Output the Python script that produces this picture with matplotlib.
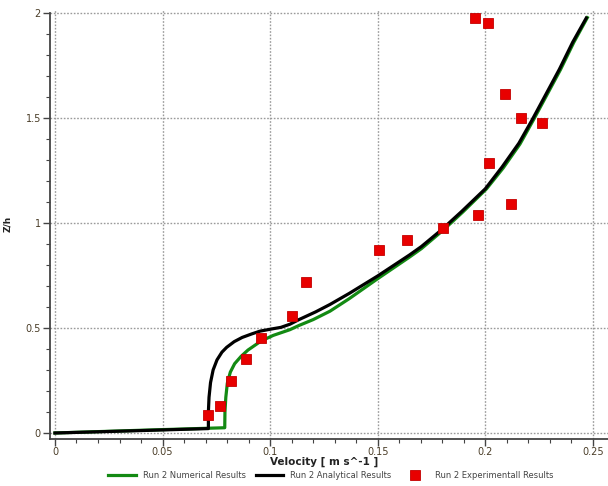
import matplotlib
matplotlib.use("Agg")
import matplotlib.pyplot as plt
from matplotlib.ticker import MultipleLocator

# Run 2 velocity profile: numerical, analytical and experimental results
num_v = [0.0, 0.04, 0.0789, 0.0790, 0.0794, 0.0801, 0.0815, 0.0835, 0.0865,
         0.0897, 0.0958, 0.1015, 0.1092, 0.1134, 0.1200, 0.1278, 0.1368,
         0.1500, 0.1648, 0.1703, 0.1803, 0.1895, 0.2005, 0.2083, 0.2161,
         0.2223, 0.2286, 0.2349, 0.2411, 0.2474]
num_z = [0.0, 0.013, 0.025, 0.10, 0.17, 0.237, 0.29, 0.33, 0.365,
         0.395, 0.438, 0.465, 0.492, 0.512, 0.540, 0.580, 0.640,
         0.735, 0.838, 0.878, 0.965, 1.052, 1.162, 1.262, 1.376,
         1.490, 1.610, 1.730, 1.860, 1.978]

ana_v = [0.0, 0.035, 0.0713, 0.0713, 0.0716, 0.0723, 0.0735, 0.0753, 0.0776,
         0.0798, 0.0833, 0.0870, 0.0915, 0.0953, 0.1005, 0.1050, 0.1092,
         0.1134, 0.1212, 0.1278, 0.1368, 0.1500, 0.1648, 0.1703, 0.1797,
         0.1890, 0.2000, 0.2078, 0.2156, 0.2218, 0.2281, 0.2344, 0.2406,
         0.2469]
ana_z = [0.0, 0.010, 0.021, 0.10, 0.17, 0.24, 0.30, 0.348, 0.385,
         0.408, 0.435, 0.455, 0.472, 0.485, 0.495, 0.503, 0.518,
         0.540, 0.577, 0.612, 0.665, 0.748, 0.848, 0.888, 0.968,
         1.055, 1.163, 1.267, 1.380, 1.492, 1.612, 1.732, 1.861,
         1.976]

exp_v = [0.0713, 0.0768, 0.0816, 0.0886, 0.0958, 0.1102, 0.1166, 0.1505,
         0.1637, 0.1802, 0.1965, 0.2019, 0.2119, 0.2090, 0.2167, 0.2261,
         0.1952, 0.2012]
exp_z = [0.086, 0.130, 0.248, 0.350, 0.452, 0.557, 0.720, 0.872,
         0.918, 0.976, 1.036, 1.284, 1.089, 1.614, 1.500, 1.476,
         1.975, 1.950]

labels = ["Run 2 Numerical Results", "Run 2 Analytical Results",
          "Run 2 Experimentall Results"]

fig = plt.figure(figsize=(6.08, 4.86), dpi=100)
ax = fig.add_axes([50 / 608, 47 / 486, 558 / 608, 430.2 / 486])

ax.plot(num_v, num_z, color="#138a13", lw=2.3, label=labels[0], zorder=3)
ax.plot(ana_v, ana_z, color="black", lw=2.3, label=labels[1], zorder=4)
ax.plot(exp_v, exp_z, ls="none", marker="s", ms=6.5, mfc="#e80000",
        mec="#c40000", mew=0.6, label=labels[2], zorder=5)

ax.set_xlim(-0.0023, 0.257)
ax.set_ylim(-0.0286, 2.02)

ax.xaxis.set_major_locator(MultipleLocator(0.05))
ax.xaxis.set_minor_locator(MultipleLocator(0.01))
ax.yaxis.set_major_locator(MultipleLocator(0.5))
ax.yaxis.set_minor_locator(MultipleLocator(0.1))
ax.set_xticks([0, 0.05, 0.1, 0.15, 0.2, 0.25])
ax.set_xticklabels(["0", "0.05", "0.1", "0.15", "0.2", "0.25"])
ax.set_yticks([0, 0.5, 1, 1.5, 2])
ax.set_yticklabels(["0", "0.5", "1", "1.5", "2"])

ax.grid(True, which="major", ls=(0, (1.2, 1.2)), color="#9a9a9a", lw=1.0)
ax.tick_params(which="major", length=5, width=1, color="#444444",
               labelsize=7, labelcolor="#4a3d28")
ax.tick_params(axis="x", which="major", pad=0.5)
ax.tick_params(axis="y", which="major", pad=1.5)
ax.tick_params(which="minor", length=3, width=0.8, color="#444444")

for s in ("top", "right"):
    ax.spines[s].set_visible(False)
for s in ("left", "bottom"):
    ax.spines[s].set_color("#444444")
    ax.spines[s].set_linewidth(1.3)
ax.spines["left"].set_bounds(-0.0286, 2.0)

ax.set_xlabel("Velocity [ m s^-1 ]", fontsize=7.5, fontweight="bold",
              color="#222222")
ax.xaxis.set_label_coords(0.491, -0.041)
ax.set_ylabel("Z/h", fontsize=6.5, fontweight="bold", color="#222222")
ax.yaxis.set_label_coords(-0.068, 0.50)

fig.legend(loc="center", bbox_to_anchor=(331 / 608, 1 - 475 / 486),
           ncol=3, frameon=False, fontsize=6, handlelength=3.3,
           columnspacing=1.2, handletextpad=0.8, labelcolor="#444444",
           borderpad=0.1)

fig.savefig("out.png", dpi=100)
